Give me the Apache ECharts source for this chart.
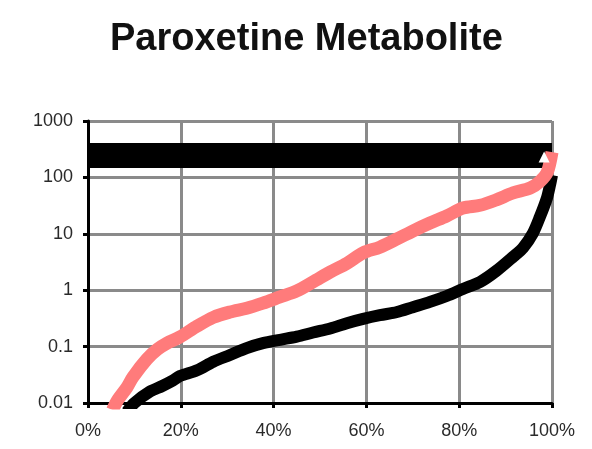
<!DOCTYPE html>
<html>
<head>
<meta charset="utf-8">
<script src="https://cdn.jsdelivr.net/npm/echarts@6/dist/echarts.min.js"></script>
<style>
  html, body { margin: 0; padding: 0; background: #fff; }
  #chart { width: 592px; height: 449px; }
</style>
</head>
<body>
<div id="chart"></div>
<script>
// Cumulative fraction of samples (x) against concentration (y, log scale)
const titleText = 'Paroxetine Metabolite';

const yTickLabels = { '0.01': '0.01', '0.1': '0.1', '1': '1', '10': '10', '100': '100', '1000': '1000' };

// Upper reference band
const bandX = [0, 1];
const bandY = [244, 244];

// Metabolite curve (pink)
const pinkX = [0.053, 0.063, 0.084, 0.097, 0.127, 0.15, 0.17, 0.198, 0.235, 0.27, 0.306, 0.342, 0.377, 0.414,
  0.45, 0.485, 0.522, 0.558, 0.593, 0.629, 0.666, 0.70, 0.737, 0.773, 0.808, 0.845, 0.88, 0.916, 0.953,
  0.974, 0.99, 1.0];
const pinkY = [0.0075, 0.011, 0.019, 0.029, 0.06, 0.09, 0.115, 0.148, 0.23, 0.33, 0.41, 0.48, 0.59, 0.76,
  0.97, 1.4, 2.1, 3.0, 4.6, 5.8, 8.1, 11.2, 15.5, 20.7, 28.6, 32, 40, 53, 65,
  85, 125, 280];

// Parent curve (black)
const blackX = [0.084, 0.10, 0.134, 0.16, 0.183, 0.198, 0.235, 0.27, 0.306, 0.342, 0.377, 0.414, 0.45, 0.485,
  0.522, 0.558, 0.593, 0.629, 0.666, 0.70, 0.737, 0.773, 0.808, 0.845, 0.88, 0.916, 0.938, 0.959,
  0.974, 0.989, 0.996, 1.0];
const blackY = [0.007, 0.010, 0.016, 0.02, 0.025, 0.030, 0.038, 0.054, 0.071, 0.094, 0.115, 0.132, 0.15, 0.178,
  0.21, 0.26, 0.31, 0.36, 0.41, 0.5, 0.62, 0.79, 1.05, 1.4, 2.2, 3.9, 5.7, 10.3,
  20, 43, 75, 110];

// Small open marker at the end of the band
const flagX = [0.983];
const flagY = [230];

const zip = (xs, ys) => xs.map((x, i) => [x, ys[i]]);

const chart = echarts.init(document.getElementById('chart'), null, { renderer: 'canvas' });

const labelFont = {
  fontFamily: 'Liberation Sans, Arial, sans-serif',
  fontSize: 18,
  color: '#2a2a2a'
};

chart.setOption({
  animation: false,
  backgroundColor: '#ffffff',
  title: {
    text: titleText,
    left: 105,
    top: 16,
    textStyle: {
      fontFamily: 'Liberation Sans, Arial, sans-serif',
      fontWeight: 'bold',
      fontSize: 38,
      color: '#111'
    }
  },
  grid: { left: 88, right: 40, top: 121, bottom: 46, containLabel: false },
  xAxis: {
    type: 'value',
    min: 0,
    max: 1,
    interval: 0.2,
    axisLine: { show: true, onZero: false, lineStyle: { color: '#000', width: 3 } },
    axisTick: { show: true, length: 5, lineStyle: { color: '#000', width: 3 } },
    axisLabel: Object.assign({ margin: 19, formatter: v => Math.round(v * 100) + '%' }, labelFont),
    splitLine: { show: true, lineStyle: { color: '#8a8a8a', width: 3 } }
  },
  yAxis: {
    type: 'log',
    logBase: 10,
    min: 0.01,
    max: 1000,
    axisLine: { show: true, lineStyle: { color: '#000', width: 3 } },
    axisTick: { show: true, length: 5, lineStyle: { color: '#000', width: 3 } },
    axisLabel: Object.assign({
      margin: 15,
      formatter: v => {
        const k = String(+v.toPrecision(3));
        return yTickLabels[k] !== undefined ? yTickLabels[k] : k;
      }
    }, labelFont),
    splitLine: { show: true, lineStyle: { color: '#8a8a8a', width: 3 } }
  },
  series: [
    {
      name: 'band',
      type: 'line',
      data: zip(bandX, bandY),
      showSymbol: false,
      lineStyle: { color: '#000', width: 25, cap: 'butt' },
      z: 2
    },
    {
      name: 'parent',
      type: 'line',
      data: zip(blackX, blackY),
      smooth: 0.3,
      showSymbol: false,
      clip: true,
      lineStyle: { color: '#000', width: 12 },
      z: 4
    },
    {
      name: 'metabolite',
      type: 'line',
      data: zip(pinkX, pinkY),
      smooth: 0.3,
      showSymbol: false,
      clip: true,
      lineStyle: { color: '#ff7b7b', width: 13 },
      z: 5
    },
    {
      name: 'flag',
      type: 'scatter',
      data: zip(flagX, flagY),
      symbol: 'triangle',
      symbolSize: 11,
      itemStyle: { color: '#ffffff', opacity: 1 },
      z: 6
    }
  ]
});
</script>
</body>
</html>
